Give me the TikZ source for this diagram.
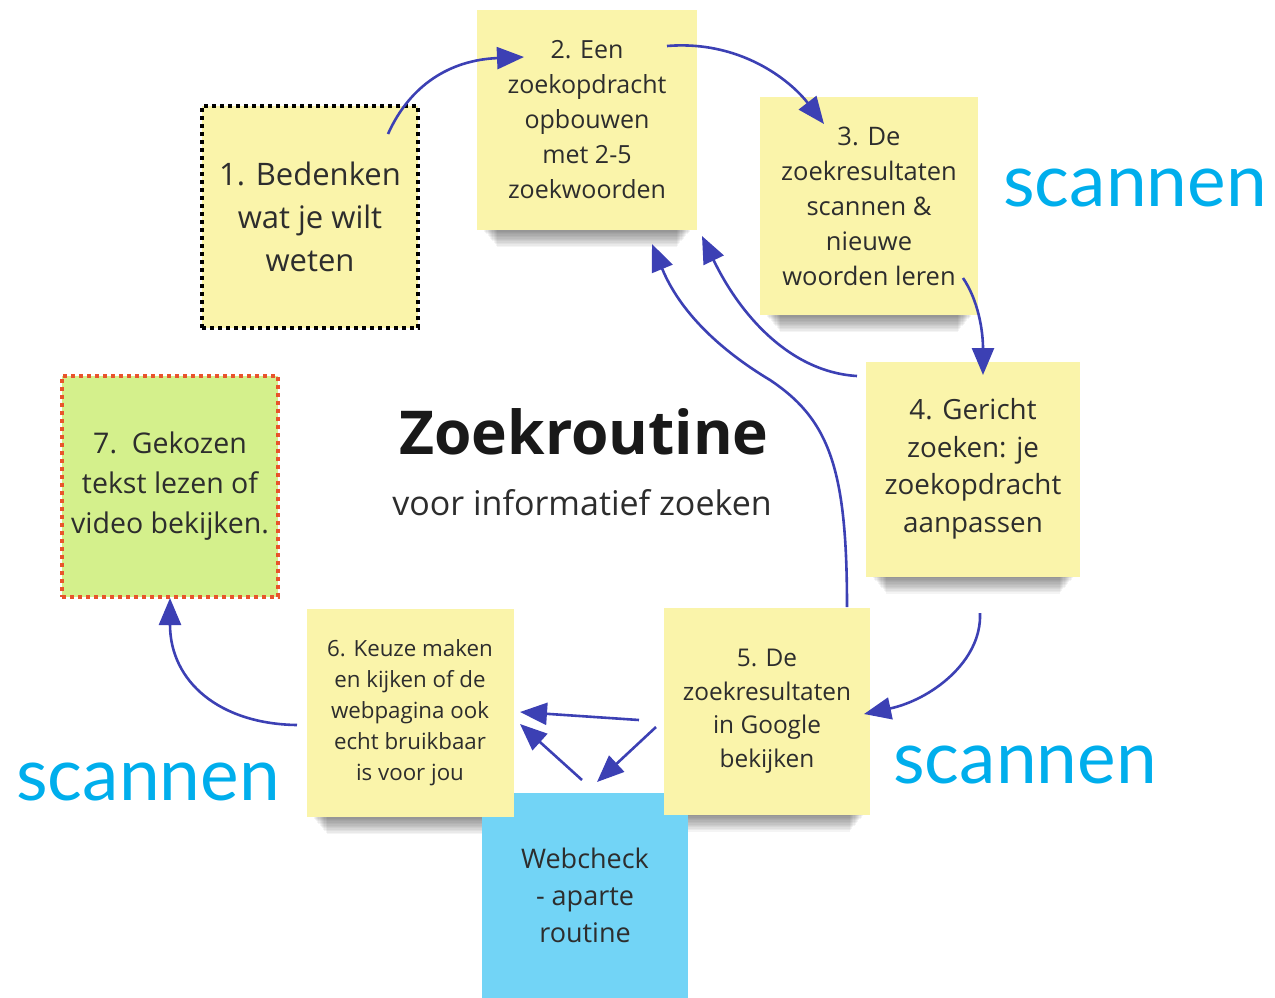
\documentclass[tikz,border=0pt]{standalone}
\usepackage{fontspec}
\setmainfont{Open Sans}
\newfontfamily\scanfont{Lato}
\usetikzlibrary{arrows.meta,backgrounds}
\definecolor{sticky}{RGB}{250,244,170}
\definecolor{greenbox}{RGB}{212,240,140}
\definecolor{bluebox}{RGB}{114,212,246}
\definecolor{arrowc}{RGB}{60,64,180}
\definecolor{scanc}{RGB}{0,174,236}
\definecolor{dotred}{RGB}{232,84,44}
\definecolor{txt}{RGB}{45,45,45}
\tikzset{
  note/.style={fill=sticky, inner sep=0pt, align=center, text=txt},
  shadowlayer/.style={fill=black, opacity=0.045},
  dotbox/.style={line width=4pt, dash pattern=on 4pt off 4pt},
  conn/.style={draw=arrowc, line width=2.6pt, -{Triangle[length=27pt,width=22pt]}},
  scanlabel/.style={text=scanc, font=\scanfont\fontsize{73}{73}\selectfont, inner sep=0pt}
}
\begin{document}
\begin{tikzpicture}[x=1pt,y=-1pt]
\useasboundingbox (0,0) rectangle (1275,997);

% notes
\node[note, fill=bluebox, minimum width=206pt, minimum height=205pt, font=\fontsize{27}{37}\selectfont] (web) at (585,895)
  {Webcheck\\- aparte\\routine};
\node[note, minimum width=220pt, minimum height=220pt, font=\fontsize{25}{35}\selectfont] (n2) at (587,120)
  {2. Een\\zoekopdracht\\opbouwen\\met 2-5\\zoekwoorden};
\node[note, minimum width=218pt, minimum height=218pt, font=\fontsize{25.5}{35}\selectfont] (n3) at (869,206)
  {3. De\\zoekresultaten\\scannen \&\\nieuwe\\woorden leren};
\node[note, minimum width=214pt, minimum height=215pt, font=\fontsize{27.8}{37.5}\selectfont] (n4) at (973,469)
  {4. Gericht\\zoeken: je\\zoekopdracht\\aanpassen};
\node[note, minimum width=206pt, minimum height=207pt, font=\fontsize{24.4}{33.5}\selectfont] (n5) at (767,711)
  {5. De\\zoekresultaten\\in Google\\bekijken};
\node[note, minimum width=207pt, minimum height=208pt, font=\fontsize{22.3}{31}\selectfont] (n6) at (410,713)
  {6. Keuze maken\\en kijken of de\\webpagina ook\\echt bruikbaar\\is voor jou};
\node[note, draw=black, dotbox, minimum width=216pt, minimum height=222pt, font=\fontsize{31}{43}\selectfont] (n1) at (310,217)
  {1. Bedenken\\wat je wilt\\weten};
\node[note, fill=greenbox, draw=dotred, dotbox, minimum width=216pt, minimum height=221pt, font=\fontsize{28.5}{40}\selectfont] (n7) at (170,486)
  {7.\ \ Gekozen\\tekst lezen of\\video bekijken.};

% soft shadows under the sticky notes
\begin{scope}[on background layer]
  \foreach \n in {n2,n3,n4,n5,n6}{
    \foreach \i in {1,...,12}{
      \fill[shadowlayer] ([xshift={6pt+1.2pt*\i}, yshift=2pt]\n.south west) rectangle ([xshift={-6pt-1.2pt*\i}, yshift={-1.4pt*\i}]\n.south east);
    }
  }
\end{scope}

% title
\node[text=black!90, font=\bfseries\fontsize{60.5}{60}\selectfont, inner sep=0pt] (title) at (584,432) {Zoekroutine};
\node[text=txt, font=\fontsize{34}{34}\selectfont, inner sep=0pt] (sub) at (582,503) {voor informatief zoeken};

% scannen labels
\node[scanlabel] (sc1) at (1135,188) {scannen};
\node[scanlabel] (sc2) at (1025,765) {scannen};
\node[scanlabel] (sc3) at (148,782) {scannen};

% connector end points
\coordinate (a1s) at (388,134); \coordinate (a1e) at (524,57);
\coordinate (a2s) at (667,46);  \coordinate (a2e) at (824,124);
\coordinate (a3s) at (963,278); \coordinate (a3e) at (983,375);
\coordinate (a4s) at (980,613); \coordinate (a4e) at (864,714);
\coordinate (a5s) at (857,376); \coordinate (a5e) at (702,236);
\coordinate (a6s) at (847,607); \coordinate (a6m) at (770,380); \coordinate (a6e) at (652,244);
\coordinate (a7s) at (639,720); \coordinate (a7e) at (520,712);
\coordinate (a8s) at (656,727); \coordinate (a8e) at (597,782);
\coordinate (a9s) at (582,780); \coordinate (a9e) at (520,724);
\coordinate (a10s) at (297,725); \coordinate (a10e) at (170,598);

% connectors
\draw[conn] (a1s) .. controls (410,85) and (450,60) .. (a1e);
\draw[conn] (a2s) .. controls (740,40) and (790,80) .. (a2e);
\draw[conn] (a3s) .. controls (978,300) and (983,330) .. (a3e);
\draw[conn] (a4s) .. controls (982,662) and (930,700) .. (a4e);
\draw[conn] (a5s) .. controls (790,372) and (740,315) .. (a5e);
\draw[conn] (a6s) .. controls (847,470) and (830,420) .. (a6m) .. controls (720,350) and (680,312) .. (a6e);
\draw[conn] (a7s) -- (a7e);
\draw[conn] (a8s) -- (a8e);
\draw[conn] (a9s) -- (a9e);
\draw[conn] (a10s) .. controls (220,724) and (170,682) .. (a10e);
\end{tikzpicture}
\end{document}
